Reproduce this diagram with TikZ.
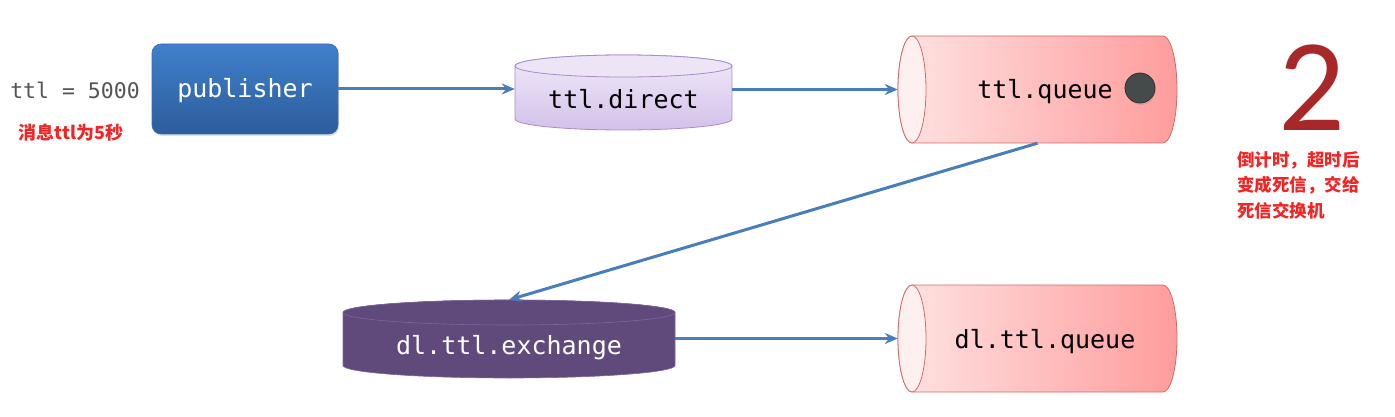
\documentclass[tikz,border=0pt]{standalone}
\usepackage{fontspec}
\setmonofont{DejaVu Sans Mono}
\newfontfamily\cjk{Noto Sans CJK SC}
\newfontfamily\numfont{Carlito}
\usetikzlibrary{arrows.meta,shadows}
\definecolor{arrowblue}{HTML}{4A7EBB}
\definecolor{pubtop}{HTML}{3F80CC}
\definecolor{pubbot}{HTML}{2D5D9B}
\definecolor{pubborder}{HTML}{3A6CAA}
\definecolor{dirtop}{HTML}{F1EAF8}
\definecolor{dirbot}{HTML}{D3C1EA}
\definecolor{dirlid}{HTML}{EDE5F6}
\definecolor{dirborder}{HTML}{A68CC8}
\definecolor{qleft}{HTML}{FFE3E3}
\definecolor{qright}{HTML}{FF9C9C}
\definecolor{qlid}{HTML}{FFF0F0}
\definecolor{qborder}{HTML}{CF6A6A}
\definecolor{dotgray}{HTML}{454B4B}
\definecolor{twored}{HTML}{A8282A}
\definecolor{redtext}{HTML}{F22424}
\definecolor{exfill}{HTML}{604A7B}
\definecolor{exline}{HTML}{7C66A0}
\definecolor{ttlgray}{HTML}{555555}
\tikzset{
  conn/.style={draw=arrowblue, line width=3pt, -{Stealth[length=13pt,width=11pt]}},
  mono/.style={font=\ttfamily\fontsize{25}{25}\selectfont, inner sep=0pt},
  shapebox/.style={draw=none, fill=none, inner sep=0pt},
  pubbox/.style={rounded corners=9pt, minimum width=186pt, minimum height=90pt,
    top color=pubtop, bottom color=pubbot, draw=pubborder, line width=0.6pt,
    drop shadow={shadow xshift=1pt, shadow yshift=-2pt, opacity=0.25}},
  redlabel/.style={text=redtext, font=\cjk\bfseries\fontsize{17.5}{25.5}\selectfont, inner sep=0pt},
  cylq/.style={left color=qleft, right color=qright, draw=qborder, line width=0.8pt},
}
\begin{document}
\begin{tikzpicture}[x=1pt,y=-1pt]
\useasboundingbox (0,0) rectangle (1395,417);

% left texts and publisher
\node[font=\ttfamily\fontsize{21.5}{21.5}\selectfont, text=ttlgray, inner sep=0pt] (ttl) at (75,90) {ttl = 5000};
\node[redlabel, font=\cjk\bfseries\fontsize{18}{18}\selectfont] (msg) at (71,133) {消息ttl为5秒};
\node[pubbox] (pub) at (245,89) {};
\node[mono, text=white] (publbl) at (245,91) {publisher};

% ttl.direct (vertical cylinder)
\draw[top color=dirtop, bottom color=dirbot, draw=dirborder, line width=0.8pt]
  (515,66) -- (515,119) arc[start angle=180,end angle=360,x radius=108.5pt,y radius=11pt]
  -- (732,66) arc[start angle=0,end angle=180,x radius=108.5pt,y radius=11pt] -- cycle;
\draw[fill=dirlid, draw=dirborder, line width=0.8pt] (623.5,66) ellipse[x radius=108.5pt, y radius=11pt];
\node[shapebox, minimum width=217pt, minimum height=75pt] (direct) at (623.5,92.5) {};
\node[mono] (directlbl) at (623.5,99) {ttl.direct};

% ttl.queue (horizontal cylinder)
\draw[cylq]
  (912,36) -- (1163,36) arc[start angle=90,end angle=-90,x radius=14pt,y radius=53.5pt]
  -- (912,143) arc[start angle=270,end angle=90,x radius=14pt,y radius=53.5pt] -- cycle;
\draw[fill=qlid, draw=qborder, line width=0.8pt] (912,89.5) ellipse[x radius=14pt, y radius=53.5pt];
\node[shapebox, minimum width=279pt, minimum height=107pt] (ttlq) at (1037.5,89.5) {};
\node[mono] (ttlqlbl) at (1045,92) {ttl.queue};
\node[circle, fill=dotgray, draw=black!80, line width=0.8pt, minimum size=30pt, inner sep=0pt,
  drop shadow={shadow xshift=1pt, shadow yshift=-2pt, opacity=0.25}] (dot) at (1140,88) {};

% big 2 and note
\node[text=twored, font=\numfont\fontsize{132}{132}\selectfont, inner sep=0pt,
  text height=87pt, text depth=0pt, anchor=base] (two) at (1312,131) {2};
\node[redlabel, anchor=north west, align=left] (note) at (1237,151)
  {倒计时，超时后\\变成死信，交给\\死信交换机};

% dl.ttl.exchange
\draw[fill=exfill, draw=exline, line width=0.6pt]
  (343,312.5) -- (343,365.5) arc[start angle=180,end angle=360,x radius=166pt,y radius=12.5pt]
  -- (675,312.5) arc[start angle=0,end angle=180,x radius=166pt,y radius=12.5pt] -- cycle;
\draw[fill=exfill, draw=exline, line width=0.6pt] (509,312.5) ellipse[x radius=166pt, y radius=12.5pt];
\node[shapebox, minimum width=332pt, minimum height=78pt] (exch) at (509,339) {};
\node[mono, text=white] (exchlbl) at (509,348) {dl.ttl.exchange};

% dl.ttl.queue
\draw[cylq]
  (912,285) -- (1163,285) arc[start angle=90,end angle=-90,x radius=14pt,y radius=53.5pt]
  -- (912,392) arc[start angle=270,end angle=90,x radius=14pt,y radius=53.5pt] -- cycle;
\draw[fill=qlid, draw=qborder, line width=0.8pt] (912,338.5) ellipse[x radius=14pt, y radius=53.5pt];
\node[shapebox, minimum width=279pt, minimum height=107pt] (dlq) at (1037.5,338.5) {};
\node[mono] (dlqlbl) at (1045,342) {dl.ttl.queue};

% connectors
\draw[conn] (pub.east) -- (pub.east -| direct.west);
\draw[conn] (ttlq.west -| direct.east) -- (ttlq.west);
\draw[conn] (ttlq.south) -- (exch.north);
\draw[conn] (dlq.west -| exch.east) -- (dlq.west);
\end{tikzpicture}
\end{document}
